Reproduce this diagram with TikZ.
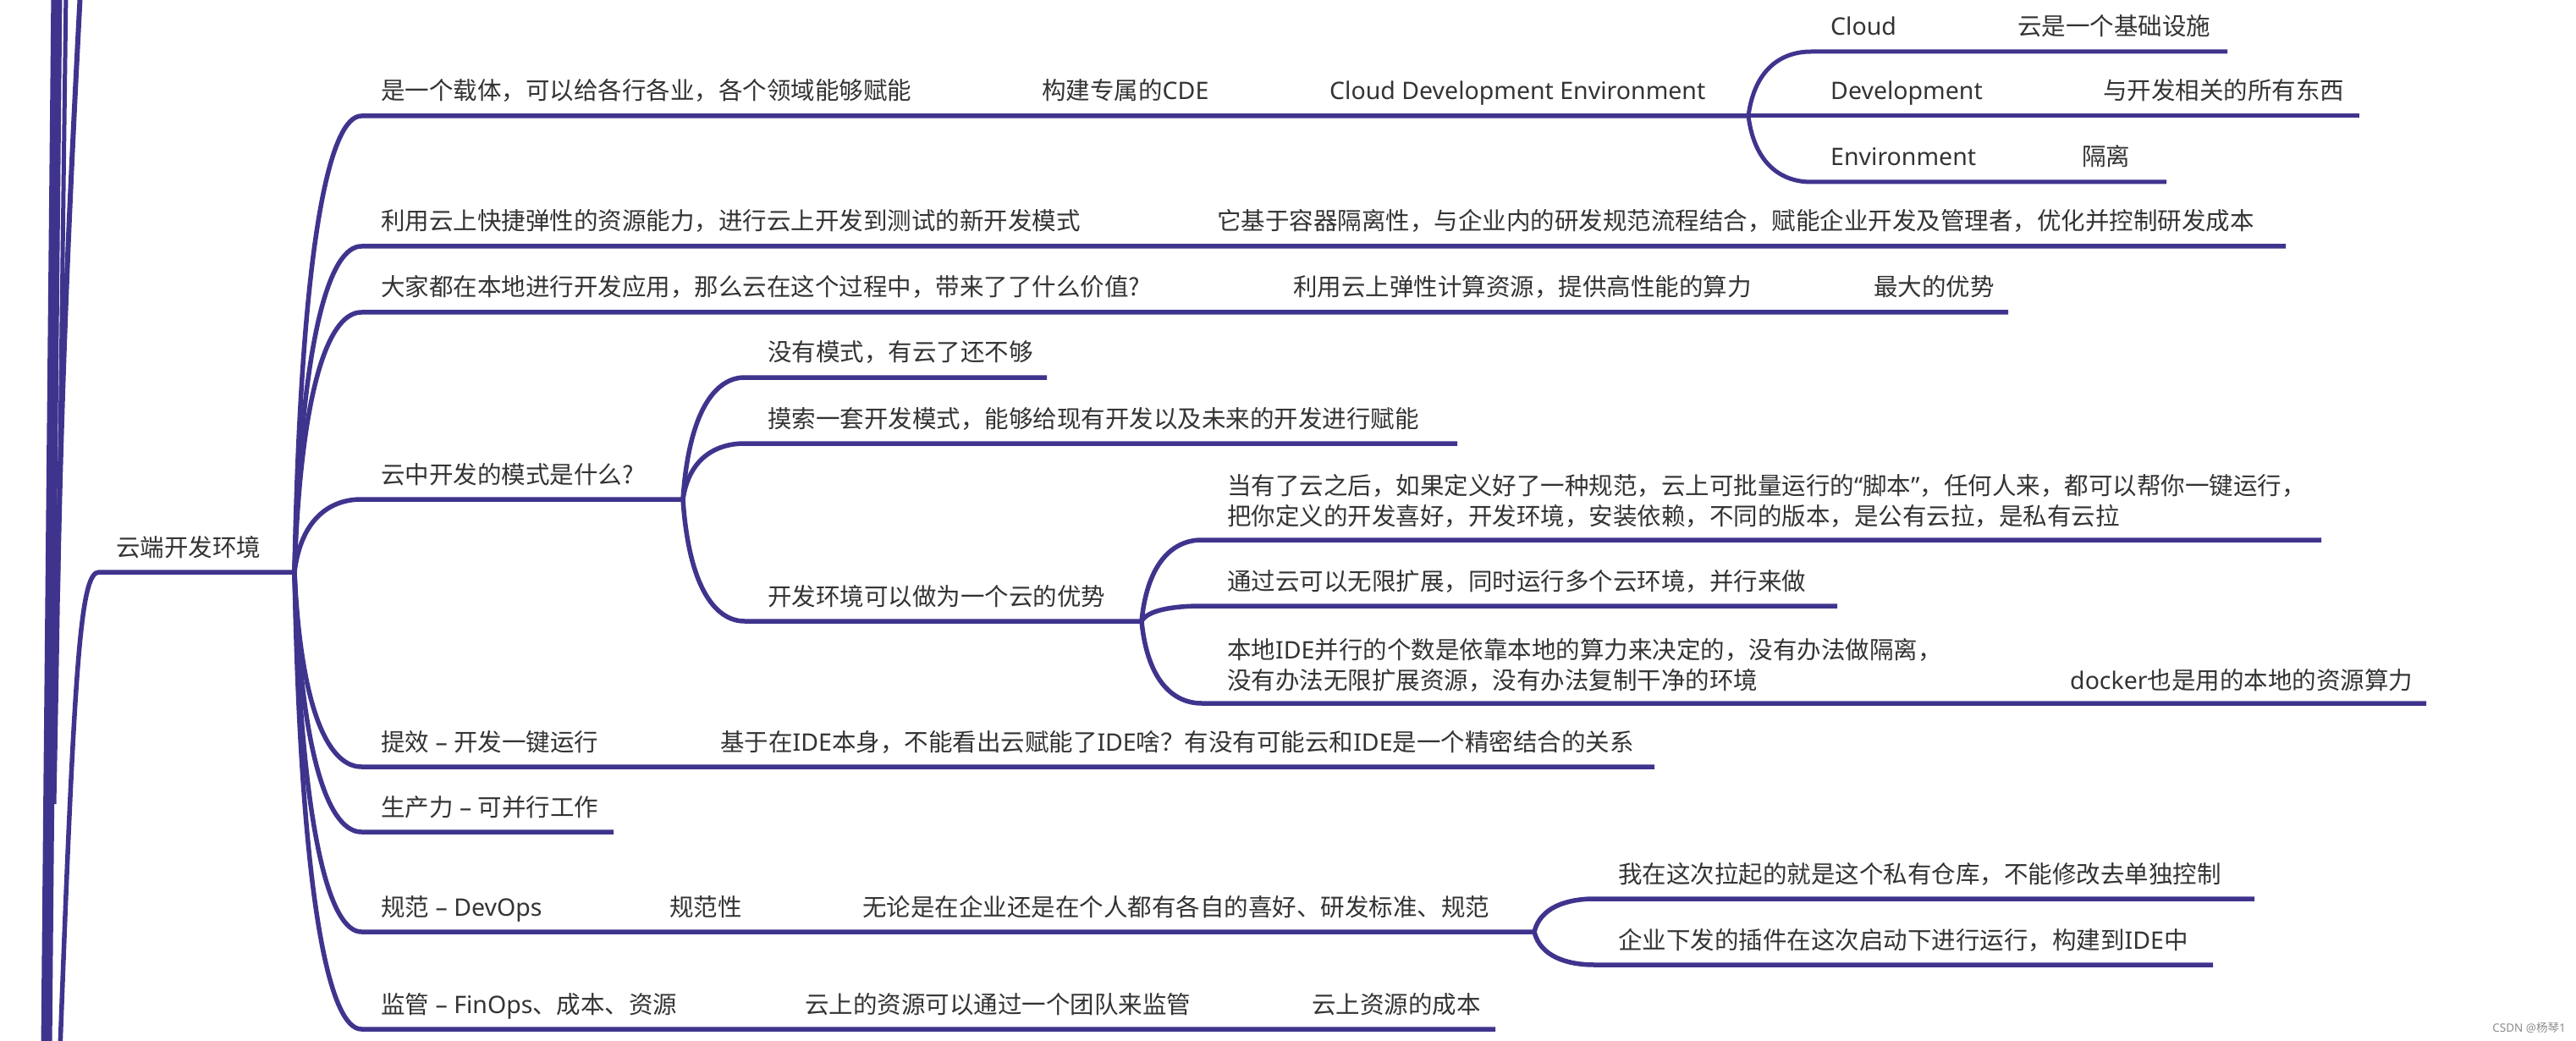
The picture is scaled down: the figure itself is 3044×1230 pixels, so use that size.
\documentclass[tikz,border=0pt]{standalone}
\usepackage{fontspec}
\setmainfont{Noto Sans CJK SC}
\newfontfamily\lat{Noto Sans}
\usetikzlibrary{calc}
\definecolor{mline}{HTML}{3F348D}
\definecolor{txtc}{HTML}{333333}
\tikzset{
  txt/.style={anchor=base west, inner sep=0pt, text=txtc, font=\fontsize{28.5}{36}\selectfont, align=left},
  ln/.style={draw=mline, line width=5.5pt},
  mmcurve/.style={to path={let \p1=(\tikztostart), \p2=(\tikztotarget) in .. controls ({\x1+0.1*(\x2-\x1)}, {\y1+0.75*(\y2-\y1)}) and ({\x1+0.55*(\x2-\x1)}, \y2) .. (\tikztotarget)}}
}
\begin{document}
\begin{tikzpicture}[x=1pt,y=-1pt]
\useasboundingbox (0,0) rectangle (3044,1230);
% cropped neighbouring branches at the left edge
\coordinate (e1a) at (67,-10); \coordinate (e1b) at (55,1240);
\draw[ln, line width=13pt] (e1a) .. controls (63,400) and (58,900) .. (e1b);
\coordinate (e2a) at (78,-10); \coordinate (e2b) at (64,950);
\draw[ln, line width=5pt] (e2a) .. controls (74,300) and (70,650) .. (e2b);
\coordinate (e3a) at (95,-10); \coordinate (e3b) at (68,700);
\draw[ln, line width=6pt] (e3a) .. controls (84,200) and (73,430) .. (e3b);

% root topic
\coordinate (rin) at (71,1240);
\coordinate (r0) at (117,676);
\coordinate (H) at (348,676);
\node[txt] (root) at (137,657) {云端开发环境};
\draw[ln] (rin) .. controls (88,780) and (95,676) .. (r0) -- (H);

% branch 1
\coordinate (b1) at (427,137);
\node[txt] (t1) at (450,118) {是一个载体，可以给各行各业，各个领域能够赋能};
\coordinate (t1bs) at (1210,137);
\node[txt] (t1b) at (1231,118) {构建专属的{\lat CDE}};
\coordinate (t1cs) at (1550,137);
\node[txt] (t1c) at (1571,118) {\lat Cloud Development Environment};
\coordinate (h1) at (2066,137);
\draw[ln] (H) to[mmcurve] (b1) -- (t1bs) -- (t1cs) -- (h1);

\coordinate (s1) at (2140,61); \coordinate (s1m) at (2362,61); \coordinate (s1e) at (2632,61);
\node[txt] (s1t) at (2163,42) {\lat Cloud};
\node[txt] (s1u) at (2384,42) {云是一个基础设施};
\draw[ln, line width=5pt] (h1) to[mmcurve] (s1) -- (s1m) -- (s1e);

\coordinate (s2) at (2140,137); \coordinate (s2m) at (2463,137); \coordinate (s2e) at (2788,137);
\node[txt] (s2t) at (2163,118) {\lat Development};
\node[txt] (s2u) at (2485,118) {与开发相关的所有东西};
\draw[ln, line width=5pt] (h1) -- (s2) -- (s2m) -- (s2e);

\coordinate (s3) at (2140,215); \coordinate (s3m) at (2438,215); \coordinate (s3e) at (2560,215);
\node[txt] (s3t) at (2163,196) {\lat Environment};
\node[txt] (s3u) at (2460,196) {隔离};
\draw[ln, line width=5pt] (h1) to[mmcurve] (s3) -- (s3m) -- (s3e);

% branch 2
\coordinate (b2) at (427,291);
\node[txt] (t2) at (450,272) {利用云上快捷弹性的资源能力，进行云上开发到测试的新开发模式};
\coordinate (t2bs) at (1416,291);
\node[txt] (t2b) at (1438,272) {它基于容器隔离性，与企业内的研发规范流程结合，赋能企业开发及管理者，优化并控制研发成本};
\coordinate (b2e) at (2701,291);
\draw[ln] (H) to[mmcurve] (b2) -- (t2bs) -- (b2e);

% branch 3
\coordinate (b3) at (427,369);
\node[txt] (t3) at (450,350) {大家都在本地进行开发应用，那么云在这个过程中，带来了了什么价值?};
\coordinate (t3bs) at (1506,369);
\node[txt] (t3b) at (1528,350) {利用云上弹性计算资源，提供高性能的算力};
\coordinate (t3cs) at (2192,369);
\node[txt] (t3c) at (2214,350) {最大的优势};
\coordinate (b3e) at (2373,369);
\draw[ln] (H) to[mmcurve] (b3) -- (t3bs) -- (t3cs) -- (b3e);

% branch 4
\coordinate (b4) at (427,590);
\node[txt] (t4) at (450,571) {云中开发的模式是什么?};
\coordinate (h4) at (807,590);
\draw[ln] (H) to[mmcurve] (b4) -- (h4);

\coordinate (c4a) at (880,446); \coordinate (c4ae) at (1237,446);
\node[txt] (t4a) at (907,427) {没有模式，有云了还不够};
\draw[ln] (h4) to[mmcurve] (c4a) -- (c4ae);

\coordinate (c4b) at (880,524); \coordinate (c4be) at (1722,524);
\node[txt] (t4b) at (907,505) {摸索一套开发模式，能够给现有开发以及未来的开发进行赋能};
\draw[ln] (h4) to[mmcurve] (c4b) -- (c4be);

\coordinate (c4c) at (880,734); \coordinate (h4c) at (1349,734);
\node[txt] (t4c) at (907,715) {开发环境可以做为一个云的优势};
\draw[ln] (h4) to[mmcurve] (c4c) -- (h4c);

\coordinate (d1) at (1420,638); \coordinate (d1e) at (2743,638);
\node[txt] (td1) at (1450,620) {当有了云之后，如果定义好了一种规范，云上可批量运行的{\lat “}脚本{\lat ”}，任何人来，都可以帮你一键运行，\\把你定义的开发喜好，开发环境，安装依赖，不同的版本，是公有云拉，是私有云拉};
\draw[ln] (h4c) to[mmcurve] (d1) -- (d1e);

\coordinate (d2) at (1420,716); \coordinate (d2e) at (2171,716);
\node[txt] (td2) at (1450,697) {通过云可以无限扩展，同时运行多个云环境，并行来做};
\draw[ln] (h4c) to[mmcurve] (d2) -- (d2e);

\coordinate (d3) at (1420,831); \coordinate (d3m) at (2424,831); \coordinate (d3e) at (2867,831);
\node[txt] (td3) at (1450,814) {本地{\lat IDE}并行的个数是依靠本地的算力来决定的，没有办法做隔离，\\没有办法无限扩展资源，没有办法复制干净的环境};
\node[txt] (td3b) at (2446,814) {{\lat docker}也是用的本地的资源算力};
\draw[ln] (h4c) to[mmcurve] (d3) -- (d3m) -- (d3e);

% branch 5
\coordinate (b5) at (427,906);
\node[txt] (t5) at (450,887) {提效{\lat{} – }开发一键运行};
\coordinate (t5bs) at (829,906);
\node[txt] (t5b) at (851,887) {基于在{\lat IDE}本身，不能看出云赋能了{\lat IDE}啥？有没有可能云和{\lat IDE}是一个精密结合的关系};
\coordinate (b5e) at (1955,906);
\draw[ln] (H) to[mmcurve] (b5) -- (t5bs) -- (b5e);

% branch 6
\coordinate (b6) at (427,983); \coordinate (b6e) at (725,983);
\node[txt] (t6) at (450,964) {生产力{\lat{} – }可并行工作};
\draw[ln] (H) to[mmcurve] (b6) -- (b6e);

% branch 7
\coordinate (b7) at (427,1101);
\node[txt] (t7) at (450,1082) {规范{\lat{} – DevOps}};
\coordinate (t7bs) at (769,1101);
\node[txt] (t7b) at (791,1082) {规范性};
\coordinate (t7cs) at (997,1101);
\node[txt] (t7c) at (1019,1082) {无论是在企业还是在个人都有各自的喜好、研发标准、规范};
\coordinate (h7) at (1813,1101);
\draw[ln] (H) to[mmcurve] (b7) -- (t7bs) -- (t7cs) -- (h7);

\coordinate (g1) at (1884,1062); \coordinate (g1e) at (2664,1062);
\node[txt] (tg1) at (1912,1043) {我在这次拉起的就是这个私有仓库，不能修改去单独控制};
\draw[ln] (h7) to[mmcurve] (g1) -- (g1e);

\coordinate (g2) at (1884,1140); \coordinate (g2e) at (2615,1140);
\node[txt] (tg2) at (1912,1121) {企业下发的插件在这次启动下进行运行，构建到{\lat IDE}中};
\draw[ln] (h7) to[mmcurve] (g2) -- (g2e);

% branch 8
\coordinate (b8) at (427,1216);
\node[txt] (t8) at (450,1197) {监管{\lat{} – FinOps}、成本、资源};
\coordinate (t8bs) at (929,1216);
\node[txt] (t8b) at (951,1197) {云上的资源可以通过一个团队来监管};
\coordinate (t8cs) at (1528,1216);
\node[txt] (t8c) at (1550,1197) {云上资源的成本};
\coordinate (b8e) at (1767,1216);
\draw[ln] (H) to[mmcurve] (b8) -- (t8bs) -- (t8cs) -- (b8e);

% watermark
\node[anchor=base east, inner sep=0pt, text=black!45, font=\fontsize{13.5}{15}\selectfont] (wm) at (3032,1219) {{\lat CSDN @}杨琴{\lat 1}};
\end{tikzpicture}
\end{document}
